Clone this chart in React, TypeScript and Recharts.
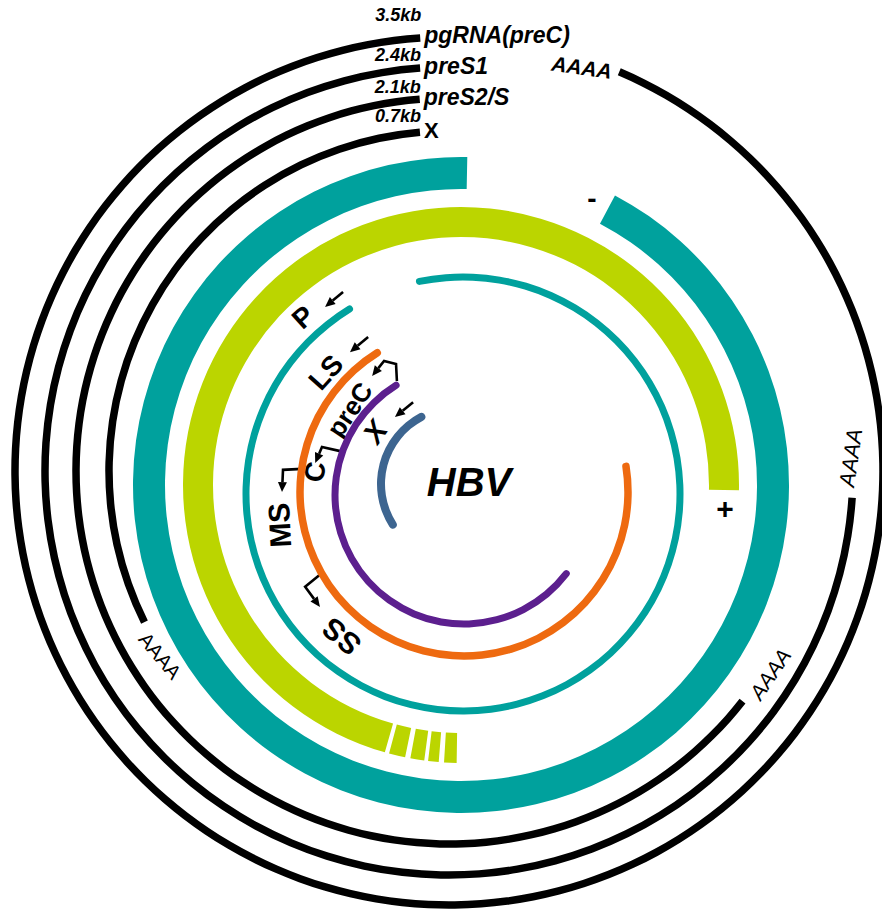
import React from "react";
import { PieChart, Pie, Cell, Customized } from "recharts";

// angles in degrees, recharts polar convention (0 = 3 o'clock, counter-clockwise)

// transcripts (black rings, outer to inner)
const transcriptNames = ["pgRNA(preC)", "preS1", "preS2/S", "X"];
const transcriptSizes = ["3.5kb", "2.4kb", "2.1kb", "0.7kb"];
const transcriptStart = [93.8, 94.1, 94.5, 94.9];
const transcriptEnd = [426.9, 356.2, 321.9, 206.4];

// genome strands
const minusStrand = [88.9, 422];
const plusStrand = [-1.1, 254.1];
const plusDashStart = [255.0, 259.5, 263.2, 266.5];
const plusDashEnd = [258.4, 262.4, 265.4, 269.1];

// open reading frames (inner rings, outer to inner)
const orfNames = ["P", "S", "C", "X"];
const orfStart = [120.6, 120.6, 120.2, 114.9];
const orfEnd = [462.5, 370.3, 324, 215.4];

// layout
const W = 882;
const H = 911;
const FONT = "'Liberation Sans', Arial, sans-serif";
const blackC = { x: 449, y: 471 };
const blackR = [434, 404, 373, 340];
const blackW = 7.5;
const kbLift = [13, 3.5, 2.5, 6];
const strandC = { x: 461, y: 485 };
const orfC = [
  { x: 463, y: 494 },
  { x: 464, y: 492 },
  { x: 464, y: 495 },
  { x: 457, y: 484 },
];
const orfR = [217, 164, 129, 76];
const orfW = [7, 7.5, 7, 8];
const orfColors = ["#00a19d", "#ee6a10", "#5c1f8e", "#3d6590"];
const TEAL = "#00a19d";
const LIME = "#bbd500";
const innerC = { x: 464, y: 494 };

const polar = (c: { x: number; y: number }, r: number, a: number) => ({
  x: c.x + r * Math.cos((-a * Math.PI) / 180),
  y: c.y + r * Math.sin((-a * Math.PI) / 180),
});

// ring labels: [text, angle, radius, rotation, size, weight, style]
const ringLabels: [string, number, number, number, number, string, string][] = [
  ["P", 132.3, 239, -42, 28, "bold", "normal"],
  ["LS", 138.6, 184, -48, 28, "bold", "normal"],
  ["preC", 143.6, 142, -56, 26, "bold", "normal"],
  ["X", 145.1, 108.5, -55, 29, "bold", "italic"],
  ["C", 171.6, 150.6, -82, 28, "bold", "normal"],
  ["MS", 189.6, 187, -93, 30, "bold", "normal"],
  ["SS", 229.3, 188, -139, 30, "bold", "normal"],
];

// polyA labels around black rings: [angle, radius, rotation, size, weight, style]
const polyA: [number, number, number, number, string, string][] = [
  [71.8, 425, 8, 21, "bold", "italic"],
  [1.9, 402, -82, 22, "normal", "italic"],
  [-32.3, 380, -56, 21, "normal", "italic"],
  [212.6, 343, 50, 20, "normal", "normal"],
];

// arrows (polar points around inner centre)
const arrows: [number, number][][] = [
  [[120.9, 235.5], [126.6, 233]],
  [[121.4, 184], [128.8, 182]],
  [[119.0, 105], [131.9, 103.4]],
  [[120.7, 131.4], [117.6, 146.7], [121.0, 155.2], [127.9, 149.6]],
  [[160.9, 131], [161.7, 149.6], [168.2, 152]],
  [[171.2, 164], [172.4, 182.6], [179.4, 182]],
  [[209.1, 162.5], [210.3, 184], [218.1, 183]],
];

const arc = (
  key: string,
  c: { x: number; y: number },
  r0: number,
  r1: number,
  a0: number,
  a1: number,
  fill: string,
  corner = 0
) => (
  <Pie
    key={key}
    data={[{ name: key, value: 1 }]}
    dataKey="value"
    cx={c.x}
    cy={c.y}
    innerRadius={r0}
    outerRadius={r1}
    startAngle={a0}
    endAngle={a1}
    cornerRadius={corner}
    stroke="none"
    label={false}
    labelLine={false}
    legendType="none"
    isAnimationActive={false}
  >
    <Cell fill={fill} />
  </Pie>
);

const Arrow = ({ pts }: { pts: [number, number][] }) => {
  const p = pts.map(([a, r]) => polar(innerC, r, a));
  const n = p.length;
  const dx = p[n - 1].x - p[n - 2].x;
  const dy = p[n - 1].y - p[n - 2].y;
  const len = Math.hypot(dx, dy);
  const ux = dx / len;
  const uy = dy / len;
  const tip = p[n - 1];
  const base = { x: tip.x - ux * 10, y: tip.y - uy * 10 };
  const head = `${tip.x},${tip.y} ${base.x - uy * 4.5},${base.y + ux * 4.5} ${base.x + uy * 4.5},${base.y - ux * 4.5}`;
  const line = p
    .slice(0, n - 1)
    .concat([base])
    .map((q) => `${q.x},${q.y}`)
    .join(" ");
  return (
    <g>
      <polyline points={line} fill="none" stroke="#000" strokeWidth={2.6} />
      <polygon points={head} fill="#000" />
    </g>
  );
};

const Annotations = () => (
  <g fontFamily={FONT}>
    {transcriptNames.map((name, i) => {
      const p = polar(blackC, blackR[i], transcriptStart[i]);
      return (
        <g key={name}>
          <text
            x={p.x + 4}
            y={p.y + 5.5}
            fontSize={name === "X" ? 22 : 23}
            fontWeight="bold"
            fontStyle={name === "X" ? "normal" : "italic"}
          >
            {name}
          </text>
          <text
            x={p.x + 1}
            y={p.y - kbLift[i] - blackW / 2}
            fontSize={18}
            fontWeight="bold"
            fontStyle="italic"
            textAnchor="end"
          >
            {transcriptSizes[i]}
          </text>
        </g>
      );
    })}
    {polyA.map(([a, r, rot, size, weight, style], i) => {
      const p = polar(blackC, r, a);
      return (
        <text
          key={"a" + i}
          x={p.x}
          y={p.y}
          fontSize={size}
          fontWeight={weight}
          fontStyle={style}
          textAnchor="middle"
          dominantBaseline="central"
          transform={`rotate(${rot} ${p.x} ${p.y})`}
        >
          AAAA
        </text>
      );
    })}
    {(() => {
      const m = polar(strandC, 314.6, 65.4);
      const pl = polar(strandC, 265, -5.0);
      return (
        <g>
          <text x={m.x} y={m.y} fontSize={28} fontWeight="bold" textAnchor="middle" dominantBaseline="central">
            -
          </text>
          <text x={pl.x} y={pl.y} fontSize={30} fontWeight="bold" textAnchor="middle" dominantBaseline="central">
            +
          </text>
        </g>
      );
    })()}
    {ringLabels.map(([t, a, r, rot, size, weight, style], i) => {
      const p = polar(innerC, r, a);
      return (
        <text
          key={"l" + i}
          x={p.x}
          y={p.y}
          fontSize={size}
          fontWeight={weight}
          fontStyle={style}
          textAnchor="middle"
          dominantBaseline="central"
          transform={`rotate(${rot} ${p.x} ${p.y})`}
        >
          {t}
        </text>
      );
    })}
    {arrows.map((pts, i) => (
      <Arrow key={"ar" + i} pts={pts} />
    ))}
    <text x={469} y={482} fontSize={40} fontWeight="bold" fontStyle="italic" textAnchor="middle" dominantBaseline="central">
      HBV
    </text>
  </g>
);

export default function App() {
  return (
    <div style={{ position: "absolute", left: 0, top: 0, width: W, height: H, background: "#fff", overflow: "hidden" }}>
      <PieChart width={W} height={H} margin={{ top: 0, right: 0, bottom: 0, left: 0 }}>
        {transcriptNames.map((name, i) =>
          arc("t" + i, blackC, blackR[i] - blackW / 2, blackR[i] + blackW / 2, transcriptStart[i], transcriptEnd[i], "#000")
        )}
        {arc("minus", strandC, 296, 328, minusStrand[0], minusStrand[1], TEAL)}
        {arc("plus", strandC, 248, 278, plusStrand[0], plusStrand[1], LIME)}
        {plusDashStart.map((s, i) => arc("d" + i, strandC, 248, 278, s, plusDashEnd[i], LIME))}
        {orfNames.map((name, i) =>
          arc("o" + i, orfC[i], orfR[i] - orfW[i] / 2, orfR[i] + orfW[i] / 2, orfStart[i], orfEnd[i], orfColors[i], orfW[i] / 2)
        )}
        <Customized component={Annotations} />
      </PieChart>
    </div>
  );
}
